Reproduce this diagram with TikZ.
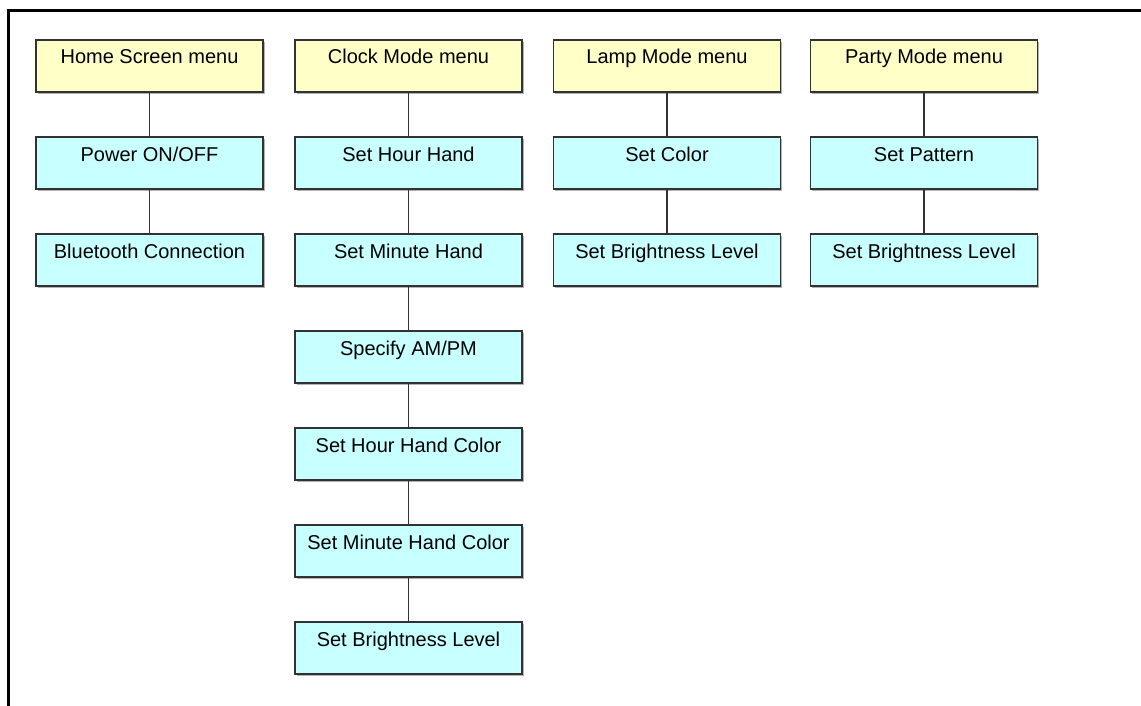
\documentclass[tikz,border=0pt]{standalone}
\usepackage{fontspec}
\setmainfont{Liberation Sans}
\usetikzlibrary{shadows}
\definecolor{menuyellow}{RGB}{255,255,200}
\definecolor{itemcyan}{RGB}{200,255,255}
\definecolor{edgegray}{RGB}{50,50,50}
\begin{document}
\begin{tikzpicture}[x=1pt,y=-1pt,
  basebox/.style={draw=edgegray, line width=1.3pt, minimum width=227pt, minimum height=52pt,
    inner xsep=2pt, inner ysep=0pt, text height=24pt, text depth=28pt,
    font=\fontsize{20}{23}\selectfont,
    drop shadow={shadow xshift=1.6pt, shadow yshift=-1.6pt, fill=black, opacity=0.3}},
  menubox/.style={basebox, fill=menuyellow},
  itembox/.style={basebox, fill=itemcyan},
  link/.style={draw=edgegray, line width=1.5pt}]
\useasboundingbox (0,0) rectangle (1141,706);
\draw[line width=2.6pt] (8.7,706) -- (8.7,10.5) -- (1141,10.5);
% column 1
\node[menubox] (home) at (149.5,66) {Home Screen menu};
\node[itembox] (power) at (149.5,163) {Power ON/OFF};
\node[itembox] (bt) at (149.5,260) {Bluetooth Connection};
% column 2
\node[menubox] (clock) at (408.5,66) {Clock Mode menu};
\node[itembox] (hour) at (408.5,163) {Set Hour Hand};
\node[itembox] (minute) at (408.5,260) {Set Minute Hand};
\node[itembox] (ampm) at (408.5,357) {Specify AM/PM};
\node[itembox] (hourc) at (408.5,454) {Set Hour Hand Color};
\node[itembox] (minc) at (408.5,551) {Set Minute Hand Color};
\node[itembox] (clbright) at (408.5,648) {Set Brightness Level};
% column 3
\node[menubox] (lamp) at (667,66) {Lamp Mode menu};
\node[itembox] (color) at (667,163) {Set Color};
\node[itembox] (lbright) at (667,260) {Set Brightness Level};
% column 4
\node[menubox] (party) at (924,66) {Party Mode menu};
\node[itembox] (pattern) at (924,163) {Set Pattern};
\node[itembox] (pbright) at (924,260) {Set Brightness Level};
% connectors
\draw[link] (home.south) -- (power.north);
\draw[link] (power.south) -- (bt.north);
\draw[link] (clock.south) -- (hour.north);
\draw[link] (hour.south) -- (minute.north);
\draw[link] (minute.south) -- (ampm.north);
\draw[link] (ampm.south) -- (hourc.north);
\draw[link] (hourc.south) -- (minc.north);
\draw[link] (minc.south) -- (clbright.north);
\draw[link] (lamp.south) -- (color.north);
\draw[link] (color.south) -- (lbright.north);
\draw[link] (party.south) -- (pattern.north);
\draw[link] (pattern.south) -- (pbright.north);
\end{tikzpicture}
\end{document}
